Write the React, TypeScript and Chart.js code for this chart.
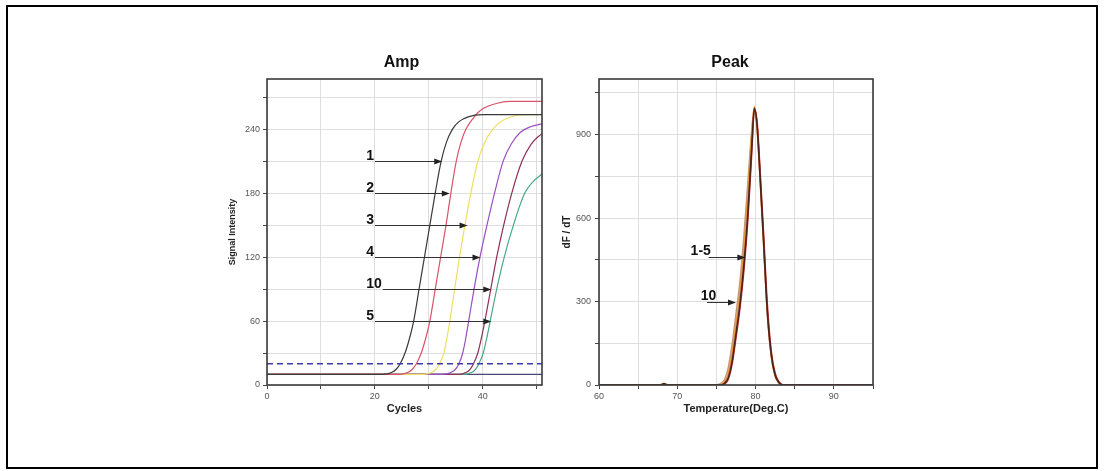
import React, { useEffect, useRef } from "react";
import { Chart, registerables } from "chart.js";

Chart.register(...registerables);

// ---------------- Amp chart data ----------------
const ampXMin = 0;
const ampXMax = 51;
const ampYMax = 287;
const ampThreshold = 20;
const ampBaseline = 10;

const amp1Cycles = [0, 21.5, 23.2, 24.0, 24.7, 25.6, 26.5, 27.2, 28.2, 29.2, 30.2, 31.2, 32.3, 33.3, 34.4, 35.6, 37.3, 40, 51];
const amp1Values = [10, 10, 12, 15, 20, 30, 45, 60, 90, 120, 150, 180, 210, 228, 240, 247, 251.5, 253.5, 253.5];

const amp2Cycles = [0, 24.5, 26.2, 27.0, 27.7, 28.6, 29.5, 30.2, 31.2, 32.2, 33.2, 34.1, 35.1, 36.0, 36.9, 38.5, 40, 42.5, 45, 51];
const amp2Values = [10, 10, 12, 15, 20, 30, 45, 60, 90, 120, 150, 180, 210, 228, 240, 252, 259, 264, 266, 266];

const amp3Cycles = [0, 29, 30.6, 31.4, 32.0, 32.8, 33.4, 33.9, 34.8, 35.7, 36.7, 37.8, 39.1, 40.4, 41.9, 43.7, 46, 48.5, 51];
const amp3Values = [10, 10, 12, 15, 20, 30, 45, 60, 90, 120, 150, 180, 210, 228, 240, 248, 252.5, 253.5, 253.5];

const amp4Cycles = [0, 32.5, 34.2, 35.0, 35.6, 36.3, 36.9, 37.4, 38.4, 39.5, 40.8, 42.2, 43.8, 45.3, 47.0, 49, 51];
const amp4Values = [10, 10, 12, 15, 20, 30, 45, 60, 90, 120, 150, 180, 210, 226, 237, 242.5, 245];

const amp10Cycles = [0, 35.5, 37, 37.7, 38.3, 39.1, 39.8, 40.4, 41.5, 42.6, 43.9, 45.4, 47.3, 49.0, 51];
const amp10Values = [10, 10, 12, 15, 20, 30, 45, 60, 90, 120, 150, 180, 210, 226, 236];

const amp5Cycles = [0, 36.5, 38, 38.7, 39.3, 40.1, 40.8, 41.4, 42.6, 44.0, 45.7, 47.8, 49.4, 51];
const amp5Values = [10, 10, 12, 15, 20, 30, 45, 60, 90, 120, 150, 180, 191, 198];

const ampLabels = ["1", "2", "3", "4", "10", "5"];
const ampArrowY = [210, 180, 150, 120, 90, 60];
const ampArrowTip = [32.5, 33.9, 37.2, 39.6, 41.6, 41.6];
const ampLabelX = [18.4, 18.4, 18.4, 18.4, 18.4, 18.4];

// ---------------- Peak chart data ----------------
const peakXMin = 60;
const peakXMax = 95;
const peakYMax = 1100;

const peakTemps = [60, 67.8, 68.3, 68.8, 75, 75.5, 76, 76.5, 77, 77.5, 78, 78.5, 79, 79.5, 79.85, 80.2, 80.5, 81, 81.5, 82, 82.5, 83, 83.5, 95];
const peakDarkValues = [0, 0, 5, 0, 0, 0, 5, 25, 85, 185, 290, 430, 610, 850, 995, 930, 790, 530, 265, 110, 35, 8, 0, 0];
const peakRedValues = [0, 0, 0, 0, 0, 0, 3, 20, 75, 170, 275, 410, 590, 830, 990, 945, 810, 555, 290, 122, 42, 11, 1, 0];
const peakOrangeValues = [0, 0, 0, 0, 0, 2, 10, 40, 115, 220, 335, 485, 675, 895, 1000, 928, 785, 525, 262, 107, 33, 7, 0, 0];
const peak10Values = [0, 0, 0, 0, 1, 5, 18, 60, 145, 255, 370, 530, 720, 910, 997, 920, 780, 520, 258, 105, 32, 7, 0, 0];

const peakLabels = ["1-5", "10"];
const peakArrowY = [460, 300];
const peakLabelX = [71.7, 73.0];
const peakArrowStart = [74.0, 73.8];
const peakArrowTip = [78.7, 77.5];

// ---------------- helpers ----------------
const zip = (xs: number[], ys: number[]) => xs.map((x, i) => ({ x, y: ys[i] }));

const curve = (data: any[], color: string, width = 1.2) => ({
  data,
  borderColor: color,
  borderWidth: width,
  pointRadius: 0,
  fill: false,
  cubicInterpolationMode: "monotone" as const,
});

function drawArrow(ctx: CanvasRenderingContext2D, x1: number, y: number, x2: number) {
  ctx.beginPath();
  ctx.moveTo(x1, y);
  ctx.lineTo(x2 - 5, y);
  ctx.stroke();
  ctx.beginPath();
  ctx.moveTo(x2, y);
  ctx.lineTo(x2 - 8, y - 3);
  ctx.lineTo(x2 - 8, y + 3);
  ctx.closePath();
  ctx.fill();
}

function overlayPlugin(opts: {
  title: string;
  titleShift: number;
  labels: string[];
  labelX: number[];
  startX: number[] | null;
  tipX: number[];
  arrowY: number[];
  textLift: number;
}) {
  return {
    id: "overlay",
    afterDraw(chart: any) {
      const ctx: CanvasRenderingContext2D = chart.ctx;
      const a = chart.chartArea;
      const xs = chart.scales.x;
      const ys = chart.scales.y;
      ctx.save();
      ctx.strokeStyle = "#3a3a3a";
      ctx.lineWidth = 1.6;
      ctx.strokeRect(a.left, a.top, a.right - a.left, a.bottom - a.top);
      ctx.fillStyle = "#111";
      ctx.font = "bold 16px 'Liberation Sans', Arial, sans-serif";
      ctx.textAlign = "center";
      ctx.textBaseline = "middle";
      ctx.fillText(opts.title, (a.left + a.right) / 2 + opts.titleShift, a.top - 16);
      ctx.font = "bold 14px 'Liberation Sans', Arial, sans-serif";
      ctx.textAlign = "left";
      ctx.textBaseline = "alphabetic";
      ctx.strokeStyle = "#333";
      ctx.lineWidth = 1;
      opts.labels.forEach((lab, i) => {
        const y = ys.getPixelForValue(opts.arrowY[i]);
        const lx = xs.getPixelForValue(opts.labelX[i]);
        ctx.fillStyle = "#111";
        ctx.fillText(lab, lx, y - opts.textLift);
        const w = ctx.measureText(lab).width;
        const sx = opts.startX ? xs.getPixelForValue(opts.startX[i]) : lx + w + 1;
        const tx = xs.getPixelForValue(opts.tipX[i]);
        ctx.fillStyle = "#222";
        drawArrow(ctx, sx, Math.round(y) + 0.5, tx);
      });
      ctx.restore();
    },
  };
}

const tickFont = { family: "'Liberation Sans', Arial, sans-serif", size: 9 };
const titleFont = (size: number) => ({ family: "'Liberation Sans', Arial, sans-serif", size, weight: "bold" as const });

function buildAmpConfig(): any {
  return {
    type: "line",
    data: {
      datasets: [
        { ...curve(zip([ampXMin, ampXMax], [ampThreshold, ampThreshold]), "#3c3ca8", 1.6), borderDash: [6, 4] },
        curve(zip(amp1Cycles, amp1Values), "#3a3a3a"),
        curve(zip(amp2Cycles, amp2Values), "#d9546a"),
        curve(zip(amp3Cycles, amp3Values), "#f0df60"),
        curve(zip(amp4Cycles, amp4Values), "#9a4fc0"),
        curve(zip(amp10Cycles, amp10Values), "#8e2f56"),
        curve(zip(amp5Cycles, amp5Values), "#4aa889"),
        curve(zip([ampXMin, ampXMax], [ampBaseline, ampBaseline]), "#4a4a78", 1.4),
      ],
    },
    options: {
      animation: false,
      responsive: false,
      events: [],
      layout: { padding: { left: 0, right: 13, top: 39, bottom: 0 } },
      plugins: { legend: { display: false }, title: { display: false }, tooltip: { enabled: false } },
      scales: {
        x: {
          type: "linear",
          min: ampXMin,
          max: ampXMax,
          afterFit: (s: any) => { s.height = 45; },
          ticks: {
            stepSize: 10,
            includeBounds: false,
            font: tickFont,
            color: "#555",
            padding: 2,
            maxRotation: 0,
            callback: (v: number) => (v % 20 === 0 ? String(v) : ""),
          },
          grid: { color: "#dedede", tickLength: 4, tickColor: "#444" },
          border: { display: false },
          title: { display: true, text: "Cycles", font: titleFont(11), color: "#222", padding: { top: 0, bottom: 14 } },
        },
        y: {
          type: "linear",
          min: 0,
          max: ampYMax,
          afterFit: (s: any) => { s.width = 62; },
          ticks: {
            stepSize: 30,
            includeBounds: false,
            font: tickFont,
            color: "#555",
            padding: 3,
            callback: (v: number) => (v % 60 === 0 ? String(v) : ""),
          },
          grid: { color: "#dedede", tickLength: 4, tickColor: "#444" },
          border: { display: false },
          title: { display: true, text: "Signal Intensity", font: titleFont(9), color: "#222", padding: { top: 22, bottom: 0 } },
        },
      },
    },
    plugins: [
      overlayPlugin({
        title: "Amp",
        titleShift: -3,
        labels: ampLabels,
        labelX: ampLabelX,
        startX: null,
        tipX: ampArrowTip,
        arrowY: ampArrowY,
        textLift: 1,
      }),
    ],
  };
}

function buildPeakConfig(): any {
  const d = (vals: number[]) => zip(peakTemps, vals);
  return {
    type: "line",
    data: {
      datasets: [
        curve(d(peakDarkValues), "#4a2418", 1.6),
        curve(d(peakRedValues), "#c8323c", 1.6),
        curve(d(peakOrangeValues), "#e8973a", 1.6),
        curve(d(peak10Values), "#c49a7a", 1.6),
      ],
    },
    options: {
      animation: false,
      responsive: false,
      events: [],
      layout: { padding: { left: 0, right: 22, top: 39, bottom: 0 } },
      plugins: { legend: { display: false }, title: { display: false }, tooltip: { enabled: false } },
      scales: {
        x: {
          type: "linear",
          min: peakXMin,
          max: peakXMax,
          afterFit: (s: any) => { s.height = 45; },
          ticks: {
            stepSize: 5,
            includeBounds: false,
            font: tickFont,
            color: "#555",
            padding: 2,
            maxRotation: 0,
            callback: (v: number) => (v % 10 === 0 ? String(v) : ""),
          },
          grid: { color: "#dedede", tickLength: 4, tickColor: "#444" },
          border: { display: false },
          title: { display: true, text: "Temperature(Deg.C)", font: titleFont(11), color: "#222", padding: { top: 0, bottom: 14 } },
        },
        y: {
          type: "linear",
          min: 0,
          max: peakYMax,
          afterFit: (s: any) => { s.width = 44; },
          ticks: {
            stepSize: 150,
            includeBounds: false,
            font: tickFont,
            color: "#555",
            padding: 4,
            callback: (v: number) => (v % 300 === 0 ? String(v) : ""),
          },
          grid: { color: "#dedede", tickLength: 4, tickColor: "#444" },
          border: { display: false },
          title: { display: true, text: "dF / dT", font: titleFont(10), color: "#222", padding: { top: 6, bottom: 0 } },
        },
      },
    },
    plugins: [
      overlayPlugin({
        title: "Peak",
        titleShift: -6,
        labels: peakLabels,
        labelX: peakLabelX,
        startX: peakArrowStart,
        tipX: peakArrowTip,
        arrowY: peakArrowY,
        textLift: 2,
      }),
    ],
  };
}

function ChartCanvas(props: { build: () => any; left: number; top: number; width: number; height: number }) {
  const ref = useRef<HTMLCanvasElement>(null);
  useEffect(() => {
    if (!ref.current) return;
    const chart = new Chart(ref.current, props.build());
    return () => chart.destroy();
  }, []);
  return (
    <canvas
      ref={ref}
      width={props.width}
      height={props.height}
      style={{
        position: "absolute",
        left: props.left,
        top: props.top,
        width: props.width,
        height: props.height,
        display: "block",
      }}
    />
  );
}

export default function App() {
  return (
    <>
      <div
        style={{
          position: "absolute",
          left: 6,
          top: 5,
          width: 1092,
          height: 464,
          border: "2px solid #000",
          boxSizing: "border-box",
          background: "#fff",
        }}
      />
      <ChartCanvas build={buildAmpConfig} left={205} top={40} width={350} height={390} />
      <ChartCanvas build={buildPeakConfig} left={555} top={40} width={340} height={390} />
    </>
  );
}
